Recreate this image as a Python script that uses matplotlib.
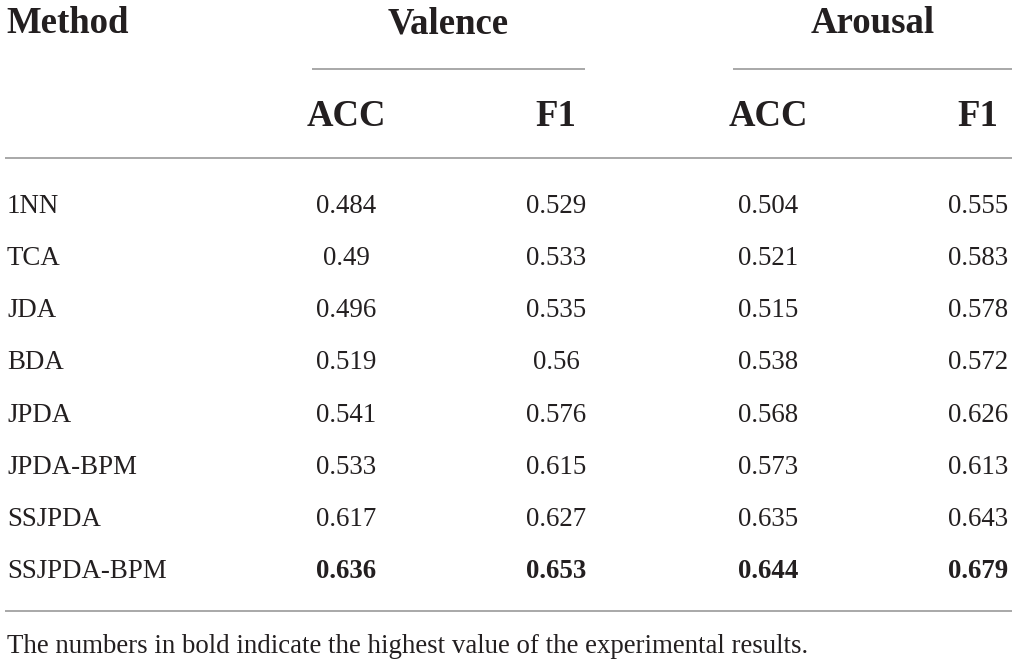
import matplotlib
matplotlib.use("Agg")
import matplotlib.pyplot as plt

methods = ["1NN", "TCA", "JDA", "BDA", "JPDA", "JPDA-BPM", "SSJPDA", "SSJPDA-BPM"]
valence_acc = ["0.484", "0.49", "0.496", "0.519", "0.541", "0.533", "0.617", "0.636"]
valence_f1 = ["0.529", "0.533", "0.535", "0.56", "0.576", "0.615", "0.627", "0.653"]
arousal_acc = ["0.504", "0.521", "0.515", "0.538", "0.568", "0.573", "0.635", "0.644"]
arousal_f1 = ["0.555", "0.583", "0.578", "0.572", "0.626", "0.613", "0.643", "0.679"]
bold_row = "SSJPDA-BPM"
note = "The numbers in bold indicate the highest value of the experimental results."

W, H = 1017, 664
fig = plt.figure(figsize=(W / 100, H / 100), dpi=100)
ax = fig.add_axes([0, 0, 1, 1])
ax.set_xlim(0, W)
ax.set_ylim(H, 0)
ax.axis("off")

font = "Liberation Serif"
ink = "#231f20"
rule = "#9a9a9a"
head_size = 26.5
body_size = 19.4

# header
ax.text(6, 33, "Method", fontsize=head_size, fontweight="bold", family=font,
        color=ink, ha="left", va="baseline")
groups = [("Valence", 312, 585), ("Arousal", 733, 1012)]
for name, x0, x1 in groups:
    ax.text((x0 + x1) / 2, 33, name, fontsize=head_size, fontweight="bold",
            family=font, color=ink, ha="center", va="baseline")
    ax.plot([x0, x1], [68.5, 68.5], color=rule, lw=1.2, solid_capstyle="butt")

col_x = [346, 556, 768, 978]
sub = ["ACC", "F1", "ACC", "F1"]
for x, s in zip(col_x, sub):
    ax.text(x, 126, s, fontsize=head_size, fontweight="bold", family=font,
            color=ink, ha="center", va="baseline")

ax.plot([5, 1012], [158, 158], color=rule, lw=1.2, solid_capstyle="butt")

# body rows
cols = [valence_acc, valence_f1, arousal_acc, arousal_f1]
for i, m in enumerate(methods):
    base = 213 + i * 52.15
    ax.text(7, base, m, fontsize=body_size, family=font, color=ink,
            ha="left", va="baseline")
    w = "bold" if m == bold_row else "normal"
    for x, col in zip(col_x, cols):
        ax.text(x, base, col[i], fontsize=body_size, fontweight=w, family=font,
                color=ink, ha="center", va="baseline")

ax.plot([5, 1012], [611, 611], color=rule, lw=1.2, solid_capstyle="butt")
ax.text(7, 653, note, fontsize=body_size, family=font, color=ink,
        ha="left", va="baseline")

fig.savefig("out.png", dpi=100, facecolor="white")
